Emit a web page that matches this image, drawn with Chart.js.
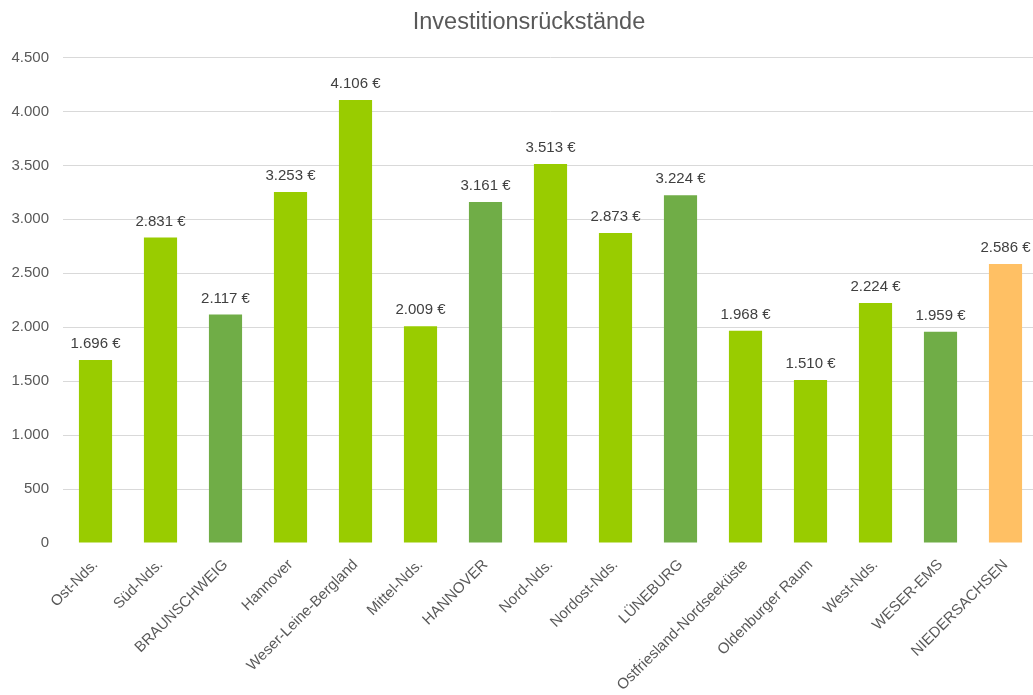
<!DOCTYPE html>
<html>
<head>
<meta charset="utf-8">
<script src="https://cdn.jsdelivr.net/npm/chart.js@4"></script>
<style>
html,body{margin:0;padding:0;background:#fff;overflow:hidden;}
#wrap{width:1040px;height:695px;}
</style>
</head>
<body>
<div id="wrap"><canvas id="c" width="1040" height="695"></canvas></div>
<script>
const categories = ["Ost-Nds.","Süd-Nds.","BRAUNSCHWEIG","Hannover","Weser-Leine-Bergland","Mittel-Nds.","HANNOVER","Nord-Nds.","Nordost-Nds.","LÜNEBURG","Ostfriesland-Nordseeküste","Oldenburger Raum","West-Nds.","WESER-EMS","NIEDERSACHSEN"];
const values = [1696,2831,2117,3253,4106,2009,3161,3513,2873,3224,1968,1510,2224,1959,2586];
const levels = ["sub","sub","region","sub","sub","sub","region","sub","sub","region","sub","sub","sub","region","total"];
const levelColors = {sub:"#99CC00", region:"#70AD47", total:"#FFC064"};
const yTicks = [0,500,1000,1500,2000,2500,3000,3500,4000,4500];

function fmt(n){
  const s = String(Math.round(n));
  return s.replace(/\B(?=(\d{3})+(?!\d))/g, ".");
}

const valueLabels = {
  id: "valueLabels",
  afterLayout(chart){
    if (chart.titleBlock) { chart.titleBlock.left = 20; }
  },
  afterDatasetsDraw(chart){
    const ctx = chart.ctx;
    const meta = chart.getDatasetMeta(0);
    ctx.save();
    ctx.font = "15px 'Liberation Sans', Arial, sans-serif";
    ctx.fillStyle = "#404040";
    ctx.textAlign = "center";
    ctx.textBaseline = "middle";
    meta.data.forEach((bar, i) => {
      ctx.fillText(fmt(values[i]) + " €", bar.x, bar.y - 16);
    });
    ctx.restore();
  }
};

new Chart(document.getElementById("c"), {
  type: "bar",
  data: {
    labels: categories,
    datasets: [{
      data: values,
      backgroundColor: levels.map(l => levelColors[l]),
      borderWidth: 0,
      categoryPercentage: 1.0,
      barPercentage: 0.51
    }]
  },
  options: {
    responsive: false,
    animation: false,
    layout: { padding: { left: 0, right: 2, top: 0, bottom: 0 } },
    plugins: {
      legend: { display: false },
      tooltip: { enabled: false },
      title: {
        display: true,
        text: "Investitionsrückstände",
        color: "#595959",
        font: { family: "'Liberation Sans', Arial, sans-serif", size: 23.5, weight: "normal" },
        padding: { top: 8, bottom: 21.3 }
      }
    },
    scales: {
      x: {
        grid: { display: false },
        border: { display: false },
        ticks: {
          color: "#595959",
          font: { family: "'Liberation Sans', Arial, sans-serif", size: 15 },
          maxRotation: 45, minRotation: 45, autoSkip: false,
          padding: 5
        },
        afterFit(scale){ scale.height = 152; }
      },
      y: {
        min: 0, max: 4500,
        afterBuildTicks(scale){ scale.ticks = yTicks.map(v => ({value: v})); },
        grid: {
          color: (c) => (c.tick && c.tick.value === 0) ? "rgba(0,0,0,0)" : "#D9D9D9",
          lineWidth: 1,
          drawTicks: false
        },
        border: { display: false },
        ticks: {
          color: "#595959",
          font: { family: "'Liberation Sans', Arial, sans-serif", size: 15 },
          padding: 14,
          callback: (v) => fmt(v)
        },
        afterFit(scale){ scale.width = 63; }
      }
    }
  },
  plugins: [valueLabels]
});
</script>
</body>
</html>
